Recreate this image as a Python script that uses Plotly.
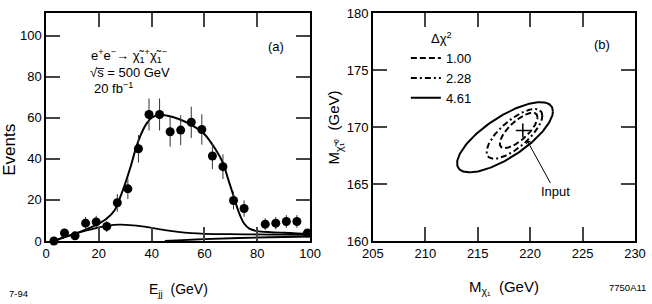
import numpy as np
import plotly.graph_objects as go

# ---------------- data: panel (a) ----------------
ejj_bins = [3, 7, 11, 15, 19, 23, 27, 31, 35, 39, 43, 47, 51, 55, 59, 63, 67, 71, 75, 83, 87, 91, 95, 99]
events = [0, 3.9, 2.5, 8.7, 9.3, 7.1, 18.6, 25.4, 44.9, 61.6, 61.6, 53.2, 54.0, 57.8, 54.3, 41.4, 36.2, 19.7, 15.8, 8.2, 8.7, 9.5, 9.5, 3.9]
errors = [0, 2.0, 1.6, 3.0, 3.0, 2.7, 4.3, 5.0, 6.7, 7.8, 7.8, 7.3, 7.3, 7.6, 7.4, 6.4, 6.0, 4.4, 4.0, 2.9, 3.0, 3.1, 3.1, 2.0]

fit_x = [3, 7, 11, 15, 19, 23, 26, 28, 30, 32, 34, 36, 38, 40, 43, 46, 50, 55, 60, 64, 67, 69, 71, 73, 75, 77, 80, 85, 90, 95, 100]
fit_y = [0, 2, 3.5, 5.5, 7.8, 11, 15, 21, 28, 36, 45, 52, 57, 60, 61.5, 61, 59.5, 56.5, 52, 45, 38, 30, 22, 14, 8.5, 6, 4.8, 4.3, 4.0, 3.7, 3.4]

bg1_x = [3, 7, 11, 15, 19, 23, 28, 33, 39, 45, 50, 55, 60, 70, 80, 90, 100]
bg1_y = [0, 1.8, 3.5, 5.0, 6.3, 7.4, 8.0, 7.6, 6.6, 5.3, 4.4, 3.8, 3.5, 3.3, 3.2, 3.1, 3.0]

bg2_x = [45, 60, 80, 100]
bg2_y = [0, 0.9, 1.7, 2.2]

# ---------------- data: panel (b) ----------------
levels = ["1.00", "2.28", "4.61"]
ell_cx = [218.9, 218.5, 217.6]
ell_cy = [169.7, 169.4, 169.1]
ell_rx = [1.80, 2.66, 4.57]
ell_ry = [1.55, 2.18, 3.08]
ell_rho = [0.74, 0.73, 0.74]
ell_dash = ["6px,3px", "6px,3px,2px,3px", "solid"]

input_point = (219.3, 169.7)

FONT = "Liberation Sans, Arial, Helvetica, sans-serif"

fig = go.Figure()

# panel (a)
fig.add_trace(go.Scatter(x=fit_x, y=fit_y, mode="lines", line=dict(color="black", width=2, shape="spline", smoothing=0.8),
                         xaxis="x", yaxis="y", showlegend=False, hoverinfo="skip"))
fig.add_trace(go.Scatter(x=bg1_x, y=bg1_y, mode="lines", line=dict(color="black", width=1.8, shape="spline", smoothing=0.8),
                         xaxis="x", yaxis="y", showlegend=False, hoverinfo="skip"))
fig.add_trace(go.Scatter(x=bg2_x, y=bg2_y, mode="lines", line=dict(color="black", width=1.8, shape="spline"),
                         xaxis="x", yaxis="y", showlegend=False, hoverinfo="skip"))
fig.add_trace(go.Scatter(x=ejj_bins, y=events, mode="markers",
                         marker=dict(color="black", size=9),
                         error_y=dict(type="data", array=errors, visible=True, color="#333", thickness=1, width=0),
                         xaxis="x", yaxis="y", showlegend=False, cliponaxis=False))

# panel (b)
t = np.linspace(0, 2 * np.pi, 200)
for lev, cx, cy, rx, ry, rho, dash in zip(levels, ell_cx, ell_cy, ell_rx, ell_ry, ell_rho, ell_dash):
    alpha = np.arccos(rho)
    ex = cx + rx * np.cos(t)
    ey = cy + ry * np.cos(t - alpha)
    fig.add_trace(go.Scatter(x=ex, y=ey, mode="lines", name=lev,
                             line=dict(color="black", width=2, dash=dash),
                             xaxis="x2", yaxis="y2", hoverinfo="skip"))

fig.add_trace(go.Scatter(x=[input_point[0]], y=[input_point[1]], mode="markers",
                         marker=dict(symbol="cross-thin", size=10, line=dict(color="black", width=1.5)),
                         xaxis="x2", yaxis="y2", showlegend=False))

axis_common = dict(showline=True, linecolor="black", linewidth=1.5, mirror="allticks",
                   ticks="inside", ticklen=14, tickwidth=1.5, tickcolor="#444",
                   showgrid=False, zeroline=False, tickfont=dict(size=13, color="black", family=FONT))

fig.update_layout(
    width=652, height=304,
    margin=dict(l=46, r=13, t=6, b=63),
    paper_bgcolor="white", plot_bgcolor="white",
    font=dict(family=FONT, color="black", size=13),
    xaxis=dict(domain=[0, 0.4484], range=[0, 100], dtick=20, anchor="y", **axis_common),
    yaxis=dict(domain=[0, 1], range=[0, 111], tickvals=[0, 20, 40, 60, 80, 100], anchor="x", **axis_common),
    xaxis2=dict(domain=[0.5550, 1], range=[205, 230], dtick=5, anchor="y2", **axis_common),
    yaxis2=dict(domain=[0, 1], range=[160, 180], dtick=5, anchor="x2", **axis_common),
    legend=dict(x=0.611, y=0.942, xanchor="left", yanchor="top", bgcolor="rgba(0,0,0,0)",
                font=dict(size=13), title=dict(text="Δχ<sup>2</sup>", side="top center", font=dict(size=13)),
                tracegroupgap=0, itemwidth=30),
)

annotations = [
    dict(text="e<sup>+</sup>e<sup>−</sup>→ χ̃<sub>1</sub><sup>+</sup>χ̃<sub>1</sub><sup>−</sup>", xref="x domain", yref="y domain",
         x=(89 - 46) / 265, y=(241 - 50) / 235, xanchor="left", yanchor="middle", showarrow=False, font=dict(size=13)),
    dict(text="√s̅ = 500 GeV", xref="x domain", yref="y domain",
         x=(88 - 46) / 265, y=(241 - 67) / 235, xanchor="left", yanchor="middle", showarrow=False, font=dict(size=13)),
    dict(text="20 fb<sup>−1</sup>", xref="x domain", yref="y domain",
         x=(92 - 46) / 265, y=(241 - 83) / 235, xanchor="left", yanchor="middle", showarrow=False, font=dict(size=13)),
    dict(text="(a)", xref="x domain", yref="y domain", x=(277 - 46) / 265, y=(241 - 41) / 235,
         xanchor="center", yanchor="middle", showarrow=False, font=dict(size=13)),
    dict(text="(b)", xref="x2 domain", yref="y2 domain", x=(606 - 376) / 263, y=(241 - 38) / 235,
         xanchor="center", yanchor="middle", showarrow=False, font=dict(size=13)),
    dict(text="Input", x=219.6, y=169.0, ax=222.4, ay=164.3, xref="x2", yref="y2", axref="x2", ayref="y2",
         showarrow=True, arrowhead=1, arrowsize=1, arrowwidth=1, arrowcolor="black", standoff=2,
         font=dict(size=13)),
    # axis titles
    dict(text="Events", xref="paper", yref="y domain", x=0, xshift=-36, y=(241 - 147) / 235,
         textangle=-90, xanchor="center", yanchor="middle", showarrow=False, font=dict(size=17)),
    dict(text="E<sub>jj</sub>  (GeV)", xref="x domain", yref="paper", x=0.5, y=0, yshift=-49,
         xanchor="center", yanchor="middle", showarrow=False, font=dict(size=14)),
    dict(text="M<sub>χ̃₁⁰</sub>  (GeV)", xref="x2 domain", yref="y2 domain", x=0, xshift=-38, y=(241 - 124) / 235,
         textangle=-90, xanchor="center", yanchor="middle", showarrow=False, font=dict(size=15)),
    dict(text="M<sub>χ₁</sub>  (GeV)", xref="x2 domain", yref="paper", x=0.5, y=0, yshift=-46,
         xanchor="center", yanchor="middle", showarrow=False, font=dict(size=15)),
    dict(text="7-94", xref="paper", yref="paper", x=0, xshift=-39, y=0, yshift=-52,
         xanchor="left", yanchor="middle", showarrow=False, font=dict(size=9.5)),
    dict(text="7750A11", xref="paper", yref="paper", x=1, xshift=13, y=0, yshift=-46,
         xanchor="right", yanchor="middle", showarrow=False, font=dict(size=9.5)),
]
fig.update_layout(annotations=annotations)

fig.write_html("out.html", config={"displayModeBar": False},
               post_script="document.body.style.margin='0';")
